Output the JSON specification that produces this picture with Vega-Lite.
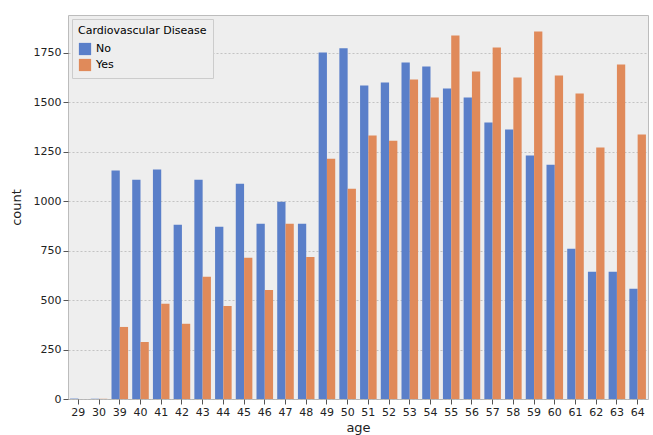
{
  "$schema": "https://vega.github.io/schema/vega-lite/v6.json",
  "width": 580,
  "height": 384,
  "autosize": "none",
  "padding": {"left": 68, "top": 15, "right": 5, "bottom": 36},
  "background": "white",
  "config": {
    "font": "DejaVu Sans",
    "view": {"fill": "#eeeeee", "stroke": "#bcbcbc"},
    "axis": {"labelFontSize": 11, "titleFontSize": 13, "titleFontWeight": "normal", "labelColor": "#222", "titleColor": "#222", "domain": false, "tickColor": "#555"}
  },
  "data": {
    "values": [
      {"age": "29", "cardio": "No", "count": 2}, {"age": "29", "cardio": "Yes", "count": 0},
      {"age": "30", "cardio": "No", "count": 1}, {"age": "30", "cardio": "Yes", "count": 1},
      {"age": "39", "cardio": "No", "count": 1154}, {"age": "39", "cardio": "Yes", "count": 364},
      {"age": "40", "cardio": "No", "count": 1108}, {"age": "40", "cardio": "Yes", "count": 288},
      {"age": "41", "cardio": "No", "count": 1159}, {"age": "41", "cardio": "Yes", "count": 481},
      {"age": "42", "cardio": "No", "count": 880}, {"age": "42", "cardio": "Yes", "count": 380},
      {"age": "43", "cardio": "No", "count": 1108}, {"age": "43", "cardio": "Yes", "count": 617},
      {"age": "44", "cardio": "No", "count": 870}, {"age": "44", "cardio": "Yes", "count": 470},
      {"age": "45", "cardio": "No", "count": 1088}, {"age": "45", "cardio": "Yes", "count": 713},
      {"age": "46", "cardio": "No", "count": 885}, {"age": "46", "cardio": "Yes", "count": 551},
      {"age": "47", "cardio": "No", "count": 997}, {"age": "47", "cardio": "Yes", "count": 885},
      {"age": "48", "cardio": "No", "count": 885}, {"age": "48", "cardio": "Yes", "count": 718},
      {"age": "49", "cardio": "No", "count": 1750}, {"age": "49", "cardio": "Yes", "count": 1214},
      {"age": "50", "cardio": "No", "count": 1772}, {"age": "50", "cardio": "Yes", "count": 1062},
      {"age": "51", "cardio": "No", "count": 1584}, {"age": "51", "cardio": "Yes", "count": 1331},
      {"age": "52", "cardio": "No", "count": 1599}, {"age": "52", "cardio": "Yes", "count": 1305},
      {"age": "53", "cardio": "No", "count": 1700}, {"age": "53", "cardio": "Yes", "count": 1614},
      {"age": "54", "cardio": "No", "count": 1680}, {"age": "54", "cardio": "Yes", "count": 1523},
      {"age": "55", "cardio": "No", "count": 1569}, {"age": "55", "cardio": "Yes", "count": 1837},
      {"age": "56", "cardio": "No", "count": 1523}, {"age": "56", "cardio": "Yes", "count": 1655},
      {"age": "57", "cardio": "No", "count": 1397}, {"age": "57", "cardio": "Yes", "count": 1776},
      {"age": "58", "cardio": "No", "count": 1361}, {"age": "58", "cardio": "Yes", "count": 1624},
      {"age": "59", "cardio": "No", "count": 1230}, {"age": "59", "cardio": "Yes", "count": 1857},
      {"age": "60", "cardio": "No", "count": 1184}, {"age": "60", "cardio": "Yes", "count": 1634},
      {"age": "61", "cardio": "No", "count": 759}, {"age": "61", "cardio": "Yes", "count": 1543},
      {"age": "62", "cardio": "No", "count": 643}, {"age": "62", "cardio": "Yes", "count": 1270},
      {"age": "63", "cardio": "No", "count": 643}, {"age": "63", "cardio": "Yes", "count": 1690},
      {"age": "64", "cardio": "No", "count": 557}, {"age": "64", "cardio": "Yes", "count": 1336}
    ]
  },
  "mark": {"type": "bar"},
  "encoding": {
    "x": {"field": "age", "type": "ordinal", "title": "age", "scale": {"paddingInner": 0.2, "paddingOuter": 0.1},
          "axis": {"labelAngle": 0, "grid": false, "titlePadding": 4}},
    "xOffset": {"field": "cardio"},
    "y": {"field": "count", "type": "quantitative", "title": "count",
          "scale": {"domain": [0, 1940], "nice": false},
          "axis": {"values": [0, 250, 500, 750, 1000, 1250, 1500, 1750], "format": "d", "gridColor": "#b0b0b0", "gridDash": [2, 2], "gridWidth": 0.7, "titlePadding": 10}},
    "color": {"field": "cardio", "type": "nominal", "scale": {"domain": ["No", "Yes"], "range": ["#5a7fc9", "#e08a5a"]},
      "legend": {"title": "Cardiovascular Disease", "orient": "top-left", "offset": 4, "fillColor": "#eeeeee", "strokeColor": "#cccccc", "padding": 6, "titleFontSize": 11, "titleFontWeight": "normal", "labelFontSize": 11, "symbolType": "square", "symbolSize": 150, "titlePadding": 6}}
  }
}
